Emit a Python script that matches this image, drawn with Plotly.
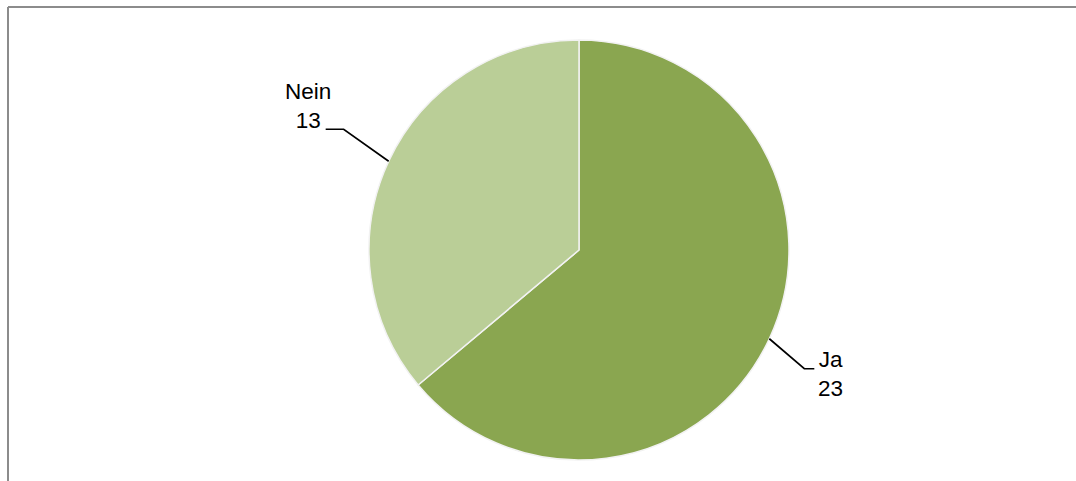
import math
import plotly.graph_objects as go

labels = ["Ja", "Nein"]
values = [23, 13]
colors = ["#8AA650", "#BACE97"]

W, H = 1076, 481
cx, cy, r = 579, 250, 210

fig = go.Figure(go.Pie(
    labels=labels, values=values, sort=False, direction="clockwise", rotation=0,
    marker=dict(colors=colors, line=dict(color="#F2F2F2", width=1.5)),
    textinfo="none", hoverinfo="label+value", showlegend=False,
    domain=dict(x=[(cx - r) / W, (cx + r) / W], y=[1 - (cy + r) / H, 1 - (cy - r) / H]),
))

shapes = []
annotations = []
total = sum(values)
cum = 0
font = dict(family="Liberation Sans, Arial", size=22.5, color="black")
for lab, v in zip(labels, values):
    mid = (cum + v / 2) / total * 2 * math.pi
    cum += v
    sx, sy = math.sin(mid), -math.cos(mid)
    px, py = cx + r * sx, cy + r * sy
    if sx > 0:
        ex, ey = px + 35, py + 30
        hx = ex + 10
    else:
        ex, ey = px - 45, py - 32
        hx = ex - 18
    pts = [(px, py), (ex, ey), (hx, ey)]
    path = "M " + " L ".join(f"{x / W:.5f},{1 - y / H:.5f}" for x, y in pts)
    shapes.append(dict(type="path", path=path, xref="paper", yref="paper",
                       line=dict(color="black", width=1.7)))
    if sx > 0:
        annotations.append(dict(
            x=(hx + 2) / W, y=1 - (ey - 24) / H, xref="paper", yref="paper",
            xanchor="left", yanchor="top",
            text=f"{lab}<br>{v}", showarrow=False, align="center", font=font,
        ))
    else:
        annotations.append(dict(
            x=(hx - 18) / W, y=1 - (ey - 52) / H, xref="paper", yref="paper",
            xanchor="center", yanchor="top",
            text=f"{lab}<br>{v}", showarrow=False, align="center", font=font,
        ))

# chart frame (top and left edges visible)
shapes.append(dict(type="line", xref="paper", yref="paper", x0=8 / W, x1=1.0, y0=1 - 7 / H, y1=1 - 7 / H,
                   line=dict(color="#8C8C8C", width=2)))
shapes.append(dict(type="line", xref="paper", yref="paper", x0=8 / W, x1=8 / W, y0=0, y1=1 - 7 / H,
                   line=dict(color="#8C8C8C", width=2)))

fig.update_layout(
    width=W, height=H, margin=dict(l=0, r=0, t=0, b=0),
    paper_bgcolor="white", plot_bgcolor="white",
    shapes=shapes, annotations=annotations,
)
fig.write_html("out.html", config={"displayModeBar": False},
               post_script="document.body.style.margin='0';")
